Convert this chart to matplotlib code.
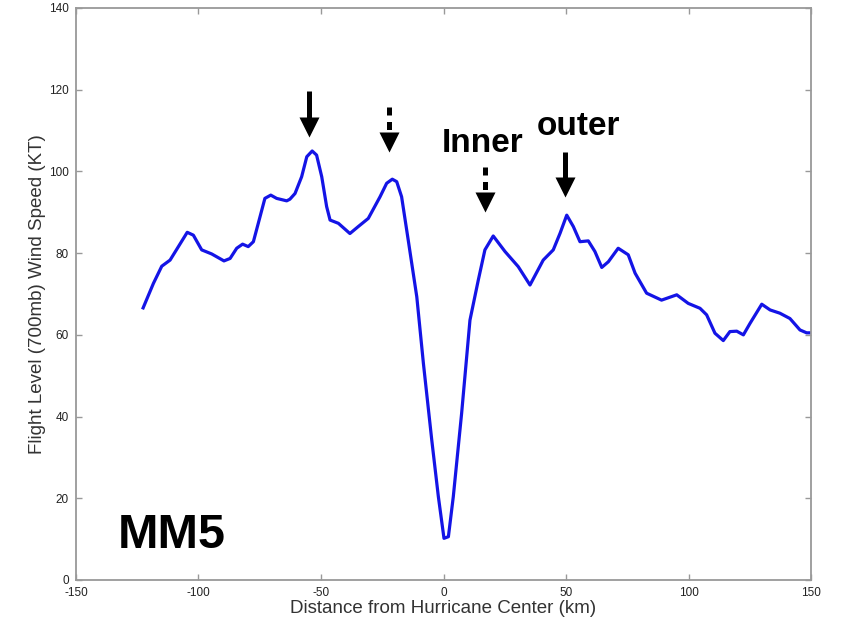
import matplotlib.pyplot as plt

# wind speed profile across the storm, MM5 run
dist_km = [-122.6, -118.4, -115.0, -111.6, -108.2, -104.6, -102.1, -98.7, -94.6, -89.6,
           -87.1, -84.4, -82.0, -79.7, -77.6, -75.6, -72.9, -70.5, -68.1, -64.0,
           -62.7, -60.6, -57.9, -55.8, -53.6, -51.8, -49.7, -47.7, -46.3, -42.9,
           -38.2, -34.8, -30.7, -25.9, -23.2, -20.9, -19.1, -17.1, -14.4, -10.9,
           -8.2, -4.8, -2.1, 0.2, 2.0, 4.0, 7.4, 10.8, 14.2, 16.9,
           20.3, 25.1, 30.5, 35.3, 40.7, 44.8, 47.6, 50.3, 53.0, 55.7,
           59.1, 61.8, 64.6, 67.3, 71.3, 75.4, 78.2, 82.9, 89.0, 95.2,
           99.9, 104.7, 107.4, 110.8, 114.2, 116.9, 119.7, 122.4, 125.1, 129.9,
           133.3, 137.3, 141.4, 145.5, 148.2, 150.0]
wind_kt = [66.6, 72.6, 76.8, 78.3, 81.6, 85.1, 84.4, 80.8, 79.8, 78.1,
           78.7, 81.2, 82.2, 81.6, 82.8, 87.3, 93.4, 94.2, 93.4, 92.8,
           93.2, 94.6, 98.7, 103.6, 105.0, 104.0, 98.7, 91.4, 88.1, 87.3,
           84.8, 86.5, 88.5, 93.8, 97.1, 98.1, 97.5, 93.8, 83.2, 69.3,
           53.0, 34.3, 20.4, 10.2, 10.6, 20.4, 40.8, 63.6, 73.4, 80.8,
           84.2, 80.4, 76.7, 72.2, 78.3, 80.8, 84.9, 89.3, 86.5, 82.8,
           83.0, 80.4, 76.5, 77.9, 81.2, 79.6, 75.1, 70.2, 68.5, 69.8,
           67.7, 66.5, 64.9, 60.4, 58.6, 60.8, 60.9, 60.0, 62.8, 67.5,
           66.1, 65.3, 64.0, 61.2, 60.5, 60.5]

xticks = [-150, -100, -50, 0, 50, 100, 150]
yticks = [0, 20, 40, 60, 80, 100, 120, 140]

# wind maxima markers: (x, top of shaft, tip, dashed?)
arrows = [(-54.8, 119.7, 108.5, False),
          (-22.2, 115.8, 104.8, True),
          (16.9, 101.2, 90.1, True),
          (49.6, 104.8, 93.8, False)]

plt.rcParams['font.family'] = ['Liberation Sans', 'DejaVu Sans']
plt.rcParams['axes.unicode_minus'] = False

fig = plt.figure(figsize=(8.43, 6.27), dpi=100)
ax = fig.add_axes([76/843, 47/627, 735/843, 572/627])

ax.plot(dist_km, wind_kt, color='#1414e6', lw=2.3, solid_joinstyle='round')

ax.set_xlim(-150, 150)
ax.set_ylim(0, 140)
ax.set_xticks(xticks)
ax.set_yticks(yticks)
ax.tick_params(direction='in', length=4, width=1, color='#999999',
               top=True, right=True, labelsize=8.5, labelcolor='#222222')
ax.tick_params(axis='x', pad=5)
ax.tick_params(axis='y', pad=5)
for sp in ax.spines.values():
    sp.set_color('#999999')
    sp.set_linewidth(1.3)

ax.set_xlabel('Distance from Hurricane Center (km)', fontsize=13.5, color='#333333', labelpad=1)
ax.set_ylabel('Flight Level (700mb) Wind Speed (KT)', fontsize=13.5, color='#333333', labelpad=2)

# arrows: shaft as a line, head as a triangle marker (head ~19 px tall)
head = 19 / 572 * 140
for x, top, tip, dashed in arrows:
    ls = (0, (1.6, 1.3)) if dashed else '-'
    ax.plot([x, x], [top, tip + head * 0.9], color='black', lw=3.6,
            linestyle=ls, solid_capstyle='butt', dash_capstyle='butt')
    ax.plot([x], [tip + head / 2], marker='v', ms=14, color='black', mec='none')

ax.text(-0.7, 104.8, 'Inner', fontsize=24, fontweight='bold', ha='left', va='baseline')
ax.text(38.0, 108.9, 'outer', fontsize=24, fontweight='bold', ha='left', va='baseline')
ax.text(-132.8, 7.8, 'MM5', fontsize=35, fontweight='bold', ha='left', va='baseline')

fig.savefig('out.png', dpi=100)
